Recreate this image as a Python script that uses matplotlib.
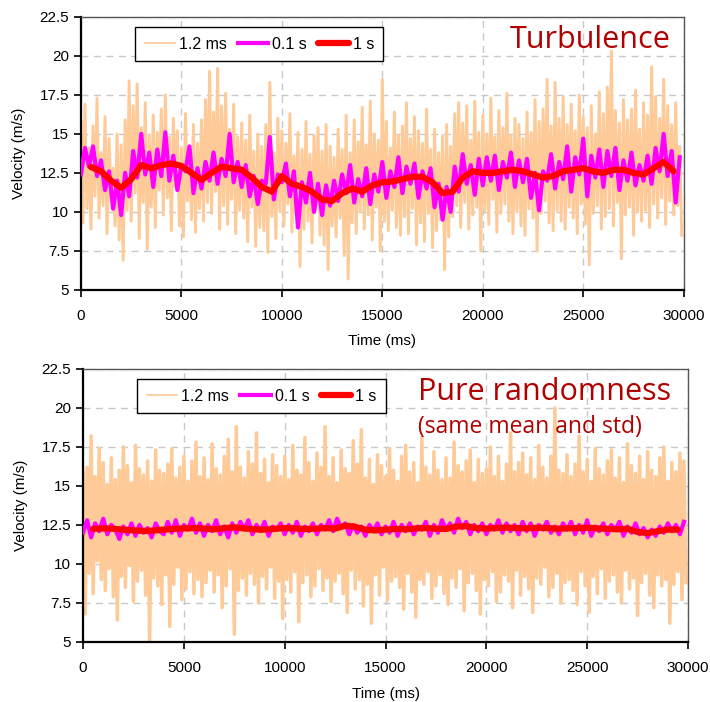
import numpy as np
import matplotlib
matplotlib.use("Agg")
import matplotlib.pyplot as plt

# ---- data (velocity in m/s) ----
# 1.2 ms raw signal, sampled here every 100 ms
turb_raw = [
    15.8, 9.3, 16.9, 10.2, 14.1, 8.9, 15.5, 11.0, 17.3, 9.6, 13.8, 10.4, 16.1, 8.6, 14.7, 10.9, 12.8, 9.1, 15.0, 8.2,
    14.3, 6.9, 15.9, 10.1, 18.4, 9.4, 16.8, 11.2, 18.2, 8.3, 15.4, 10.6, 17.0, 7.6, 14.9, 10.3, 16.2, 9.0, 15.1, 11.4,
    16.6, 9.8, 17.5, 10.9, 14.8, 8.8, 16.0, 11.6, 15.2, 9.1, 14.1, 8.4, 16.3, 10.7, 13.9, 9.5, 15.6, 8.7, 14.4, 10.2,
    15.9, 9.4, 17.2, 10.6, 19.0, 9.9, 16.4, 11.3, 19.2, 8.9, 16.8, 10.4, 17.6, 9.2, 15.3, 10.8, 16.9, 8.6, 14.8, 10.1,
    15.7, 9.6, 14.6, 8.1, 16.2, 10.3, 13.9, 7.8, 15.0, 9.0, 14.2, 8.8, 15.6, 7.4, 18.3, 9.7, 13.8, 8.3, 16.0, 10.0,
    15.2, 9.1, 14.4, 10.5, 16.3, 8.7, 13.6, 9.9, 15.1, 6.5, 14.0, 8.9, 15.8, 9.4, 13.7, 8.0, 14.9, 10.2, 15.4, 8.5,
    13.9, 7.9, 15.6, 6.3, 14.2, 9.1, 13.5, 8.4, 15.3, 9.6, 14.0, 7.2, 16.2, 5.7, 13.8, 9.3, 15.9, 8.6, 14.5, 10.0,
    16.7, 8.9, 14.3, 9.8, 17.1, 8.2, 15.0, 10.3, 14.6, 7.5, 18.5, 9.4, 15.8, 8.8, 14.1, 10.1, 16.4, 9.0, 14.9, 8.5,
    15.5, 9.7, 17.0, 8.6, 14.7, 10.2, 16.1, 7.9, 15.2, 9.3, 14.4, 8.1, 16.6, 9.9, 14.0, 7.7, 15.3, 8.8, 13.8, 9.5,
    14.9, 6.3, 15.6, 8.4, 14.2, 9.7, 16.3, 10.4, 17.0, 9.0, 15.7, 10.6, 16.8, 8.9, 14.6, 9.8, 17.1, 10.3, 15.1, 7.5,
    16.2, 10.1, 15.0, 9.2, 17.3, 10.8, 14.8, 8.7, 16.5, 9.9, 15.4, 10.5, 17.6, 9.4, 14.9, 8.6, 16.0, 10.0, 15.6, 9.1,
    14.7, 8.5, 16.4, 10.2, 15.1, 9.6, 17.2, 7.5, 15.8, 9.9, 16.6, 10.7, 18.5, 9.3, 15.5, 8.8, 18.3, 10.1, 16.0, 9.4,
    17.4, 8.9, 15.6, 10.3, 16.9, 9.6, 15.2, 8.6, 17.5, 10.5, 16.1, 9.2, 15.4, 6.6, 16.8, 9.9, 15.0, 10.4, 17.7, 8.9,
    16.3, 9.7, 18.0, 10.2, 20.3, 9.1, 16.5, 10.6, 15.7, 7.0, 17.2, 9.8, 15.9, 10.3, 16.6, 8.5, 17.8, 10.0, 15.3, 9.4,
    17.0, 10.1, 16.2, 9.0, 19.3, 10.5, 17.4, 9.6, 16.0, 10.9, 18.5, 9.2, 16.8, 10.7, 15.6, 9.8, 17.0, 10.4, 14.2, 8.5,
]
# 0.1 s average, every 200 ms
turb_01 = [
    12.4, 14.1, 12.9, 14.2, 12.3, 13.3, 11.4, 12.6, 10.2, 12.0,
    9.8, 12.5, 11.0, 13.9, 12.2, 15.0, 12.4, 13.8, 11.6, 14.0,
    12.3, 15.1, 12.0, 13.6, 11.4, 13.0, 12.6, 14.2, 11.2, 12.8,
    11.5, 13.2, 12.0, 13.8, 11.8, 13.4, 12.3, 15.0, 11.9, 13.2,
    11.6, 13.0, 11.0, 12.3, 10.5, 12.0, 11.8, 14.8, 10.8, 12.4,
    11.9, 13.1, 11.0, 12.6, 9.0, 11.9, 10.6, 12.5, 10.0, 11.8,
    9.8, 11.7, 10.4, 12.0, 10.7, 12.4, 11.2, 13.0, 10.6, 12.1,
    11.0, 12.8, 10.5, 12.4, 11.3, 13.2, 10.9, 12.6, 11.6, 13.5,
    11.2, 12.9, 11.8, 13.1, 10.9, 12.6, 11.5, 12.8, 10.3, 11.8,
    9.5, 11.6, 10.0, 12.9, 11.3, 13.7, 11.8, 13.0, 11.1, 13.4,
    11.7, 13.5, 12.0, 13.6, 11.4, 13.2, 12.2, 13.8, 11.6, 13.3,
    11.9, 13.4, 10.9, 12.5, 10.1, 12.6, 12.0, 13.7, 11.5, 13.2,
    12.1, 14.2, 11.3, 13.5, 12.4, 14.7, 11.0, 13.6, 12.2, 14.0,
    11.6, 13.9, 12.3, 14.1, 11.4, 13.3, 12.0, 13.8, 11.7, 13.0,
    12.0, 13.6, 11.8, 14.1, 12.6, 15.0, 12.3, 13.9, 10.6, 13.5,
]
# 1 s average, every 500 ms from 500 ms
turb_1 = [
    12.88, 12.6, 12.0, 11.55, 12.1, 13.0, 12.8, 13.0, 13.1, 12.95,
    12.5, 12.05, 12.5, 12.9, 12.8, 12.7, 12.2, 11.6, 11.3, 12.3,
    11.8, 11.6, 11.3, 10.8, 10.7, 11.2, 11.5, 11.3, 11.7, 11.9,
    11.95, 12.1, 12.25, 12.25, 11.9, 11.2, 11.3, 12.2, 12.6, 12.5,
    12.5, 12.6, 12.7, 12.6, 12.4, 12.2, 12.3, 12.6, 12.7, 12.8,
    12.6, 12.5, 12.7, 12.7, 12.5, 12.4, 12.8, 13.2, 12.6,
]

rand_raw = [
    15.9, 6.8, 16.2, 9.4, 18.2, 8.1, 15.6, 10.2, 17.4, 9.0, 16.5, 8.3, 15.1, 9.7, 16.8, 7.9, 15.4, 6.4, 16.0, 9.2,
    17.5, 8.5, 16.3, 9.9, 15.2, 7.6, 17.6, 8.9, 16.1, 9.6, 15.7, 8.0, 16.6, 5.0, 15.3, 9.1, 17.3, 8.6, 16.0, 7.4,
    15.8, 9.3, 16.4, 6.0, 17.4, 8.7, 15.5, 9.8, 16.2, 7.7, 16.9, 8.4, 15.3, 9.5, 16.6, 8.1, 17.8, 9.0, 15.6, 7.9,
    16.8, 8.8, 15.4, 9.6, 17.7, 8.2, 16.1, 9.3, 15.7, 7.2, 16.9, 8.6, 18.0, 9.7, 15.9, 5.5, 18.8, 8.3, 16.2, 9.1,
    15.5, 8.0, 17.2, 9.4, 16.4, 8.7, 18.4, 7.5, 15.8, 9.2, 16.7, 8.4, 15.2, 9.8, 17.0, 7.8, 16.3, 8.9, 15.6, 6.5,
    16.9, 9.0, 15.4, 8.2, 17.6, 9.5, 16.0, 6.3, 15.7, 8.8, 18.1, 9.3, 16.5, 7.9, 15.3, 8.6, 17.1, 9.7, 16.2, 8.3,
    18.8, 9.1, 15.6, 7.6, 16.8, 8.9, 15.2, 9.4, 17.3, 8.1, 16.1, 6.9, 15.8, 9.6, 17.9, 8.4, 16.4, 9.0, 18.6, 7.3,
    15.5, 8.7, 16.7, 6.2, 15.1, 9.3, 17.0, 8.0, 16.3, 9.8, 15.6, 7.7, 17.4, 8.9, 16.0, 9.2, 15.3, 8.5, 16.9, 7.1,
    17.6, 9.4, 15.9, 8.2, 16.5, 6.6, 15.2, 9.0, 18.1, 8.7, 16.2, 9.5, 15.7, 7.8, 17.2, 8.6, 16.0, 9.3, 15.4, 8.1,
    16.8, 7.4, 15.5, 9.1, 17.8, 8.5, 16.3, 9.7, 15.9, 7.0, 16.6, 8.8, 17.3, 9.4, 15.2, 8.3, 16.7, 6.8, 15.8, 9.0,
    16.1, 8.6, 17.5, 9.5, 15.6, 7.6, 16.9, 8.2, 15.3, 9.3, 16.4, 8.9, 18.4, 7.2, 15.9, 9.6, 16.5, 8.0, 17.1, 9.2,
    15.7, 8.4, 16.8, 6.9, 15.4, 9.1, 17.6, 8.7, 16.2, 9.8, 15.5, 7.9, 16.9, 8.5, 20.0, 9.4, 16.0, 7.5, 15.8, 8.8,
    17.0, 9.0, 15.6, 8.3, 16.4, 7.4, 18.2, 9.5, 15.9, 8.6, 16.7, 6.9, 15.3, 9.2, 17.4, 8.1, 16.1, 9.7, 15.7, 7.8,
    16.6, 8.9, 17.3, 9.3, 15.5, 8.2, 16.8, 7.5, 15.2, 9.6, 17.7, 8.4, 16.3, 9.1, 15.8, 6.7, 16.9, 8.8, 15.4, 9.4,
    17.2, 8.0, 16.0, 7.2, 15.6, 9.3, 16.8, 8.6, 17.5, 9.0, 15.3, 6.2, 16.5, 8.7, 15.9, 9.5, 17.1, 7.7, 16.6, 8.8,
]
rand_01 = [
    12.0, 12.8, 11.7, 12.6, 12.1, 12.9, 11.9, 12.5, 12.2, 11.6,
    12.4, 11.9, 12.6, 11.8, 12.5, 12.0, 12.3, 11.7, 12.6, 12.1,
    11.9, 12.7, 12.0, 12.8, 11.8, 12.5, 12.2, 12.9, 12.0, 12.6,
    11.8, 12.5, 12.1, 12.8, 11.9, 12.4, 11.7, 12.6, 12.0, 12.7,
    12.2, 12.8, 11.9, 12.5, 12.1, 12.7, 11.8, 12.4, 12.2, 12.6,
    11.9, 12.5, 12.0, 12.7, 11.8, 12.4, 12.1, 12.6, 11.9, 12.5,
    12.2, 12.8, 12.1, 12.9, 12.3, 12.6, 11.9, 12.5, 12.0, 12.4,
    11.8, 12.5, 12.1, 12.6, 11.9, 12.4, 12.0, 12.7, 11.8, 12.5,
    12.1, 12.6, 11.9, 12.4, 12.2, 12.7, 11.8, 12.5, 12.0, 12.8,
    12.2, 12.6, 12.0, 12.9, 12.3, 12.7, 11.9, 12.5, 12.1, 12.6,
    11.9, 12.5, 12.2, 12.8, 12.0, 12.6, 12.1, 12.5, 11.9, 12.7,
    12.1, 12.6, 11.8, 12.5, 12.2, 12.7, 12.0, 12.4, 11.9, 12.6,
    12.2, 12.7, 11.9, 12.5, 12.0, 12.8, 11.8, 12.4, 12.1, 12.6,
    11.9, 12.5, 12.2, 12.7, 11.8, 12.4, 12.0, 12.6, 11.9, 12.3,
    11.7, 12.2, 11.8, 12.4, 12.0, 12.6, 12.1, 12.5, 11.9, 12.7,
]
rand_1 = [
    12.25, 12.28, 12.26, 12.2, 12.15, 12.12, 12.14, 12.2, 12.25, 12.28,
    12.3, 12.27, 12.22, 12.3, 12.35, 12.28, 12.22, 12.2, 12.25, 12.3,
    12.28, 12.24, 12.26, 12.3, 12.27, 12.45, 12.38, 12.2, 12.15, 12.2,
    12.25, 12.22, 12.28, 12.3, 12.26, 12.24, 12.4, 12.42, 12.3, 12.27,
    12.3, 12.33, 12.3, 12.28, 12.32, 12.3, 12.26, 12.28, 12.3, 12.32,
    12.28, 12.25, 12.22, 12.25, 12.05, 11.98, 12.1, 12.2, 12.2,
]

RAW_DT, MID_DT, SLOW_T0, SLOW_DT = 100, 200, 500, 500
YTICKS = [5, 7.5, 10, 12.5, 15, 17.5, 20, 22.5]
YLABELS = ["5", "7.5", "10", "12.5", "15", "17.5", "20", "22.5"]
XTICKS = [0, 5000, 10000, 15000, 20000, 25000, 30000]

ORANGE, MAGENTA, RED, TITLE_RED = "#FDCA98", "#FF00FF", "#FF0000", "#B00000"
plt.rcParams["font.family"] = ["Liberation Sans", "DejaVu Sans"]


def panel(ax, raw, mid, slow, raw_lw):
    t_raw = np.arange(len(raw)) * RAW_DT
    t_mid = np.arange(len(mid)) * MID_DT
    t_slow = SLOW_T0 + np.arange(len(slow)) * SLOW_DT
    ax.plot(t_raw, raw, color=ORANGE, lw=raw_lw, label="1.2 ms", zorder=2)
    ax.plot(t_mid, mid, color=MAGENTA, lw=3.0, label="0.1 s", zorder=3)
    ax.plot(t_slow, slow, color=RED, lw=4.5, label="1 s", zorder=4, solid_capstyle="round")
    ax.set_xlim(0, 30000); ax.set_ylim(5, 22.5)
    ax.set_yticks(YTICKS); ax.set_yticklabels(YLABELS)
    ax.set_xticks(XTICKS)
    ax.grid(True, color="#C8C8C8", ls=(0, (5, 4)), lw=1.0, zorder=0)
    ax.set_axisbelow(True)
    ax.tick_params(labelsize=11, length=5, width=1.2, direction="out", color="black")
    ax.tick_params(axis="x", pad=9)
    for s in ("left", "bottom"):
        ax.spines[s].set_color("black"); ax.spines[s].set_linewidth(1.6)
    for s in ("top", "right"):
        ax.spines[s].set_color("#555555"); ax.spines[s].set_linewidth(1.0)
    ax.set_xlabel("Time (ms)", fontsize=11, labelpad=8)
    ax.set_ylabel("Velocity (m/s)", fontsize=11, labelpad=10)
    lg = ax.legend(loc="upper left", bbox_to_anchor=(0.0896, 0.963), borderaxespad=0, ncol=3,
                   fontsize=11.5, frameon=True, fancybox=False, edgecolor="black", framealpha=1,
                   handlelength=1.9, handletextpad=0.25, columnspacing=0.7, borderpad=0.6)
    lg.get_frame().set_linewidth(1.0)
    lg.get_lines()[0].set_linewidth(1.2)
    return ax


fig = plt.figure(figsize=(7.1, 7.02), dpi=100)
ax1 = fig.add_axes([0.114, 0.587, 0.849, 0.389])
ax2 = fig.add_axes([0.117, 0.0855, 0.852, 0.389])
panel(ax1, turb_raw, turb_01, turb_1, 2.1)
panel(ax2, rand_raw, rand_01, rand_1, 2.5)

ax1.text(0.978, 0.915, "Turbulence", transform=ax1.transAxes, ha="right", va="center",
         fontsize=22, color=TITLE_RED, family=["Open Sans", "DejaVu Sans"], zorder=6)
ax2.text(0.554, 0.915, "Pure randomness", transform=ax2.transAxes, ha="left", va="center",
         fontsize=22, color=TITLE_RED, family=["Open Sans", "DejaVu Sans"], zorder=6)
ax2.text(0.554, 0.787, "(same mean and std)", transform=ax2.transAxes, ha="left", va="center",
         fontsize=16.5, color=TITLE_RED, family=["Open Sans", "DejaVu Sans"], zorder=6)

fig.savefig("out.png", dpi=100)
